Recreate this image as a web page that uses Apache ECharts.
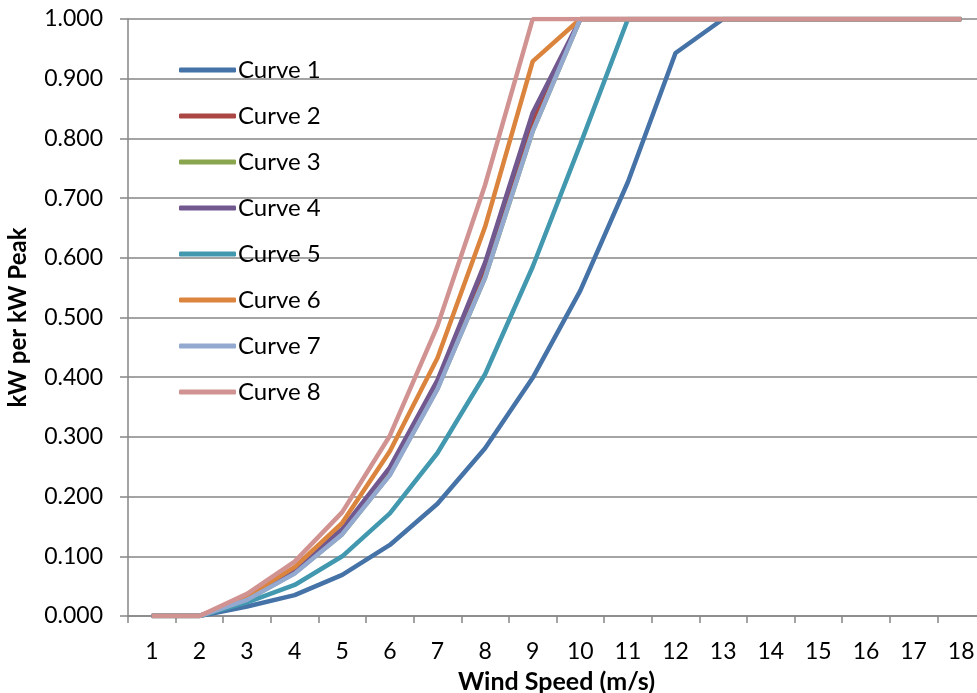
<!DOCTYPE html>
<html>
<head>
<meta charset="utf-8">
<script src="https://cdn.jsdelivr.net/npm/echarts@6/dist/echarts.min.js"></script>
<style>
html,body{margin:0;padding:0;background:#fff;}
#chart{width:977px;height:693px;}
</style>
</head>
<body>
<div id="chart"></div>
<script>
const categories = ['1','2','3','4','5','6','7','8','9','10','11','12','13','14','15','16','17','18'];
const seriesNames = ['Curve 1','Curve 2','Curve 3','Curve 4','Curve 5','Curve 6','Curve 7','Curve 8'];
const curve1 = [0,0,0.016,0.035,0.069,0.119,0.188,0.281,0.399,0.545,0.727,0.943,1,1,1,1,1,1];
const curve2 = [0,0,0.029,0.076,0.142,0.243,0.388,0.580,0.828,1,1,1,1,1,1,1,1,1];
const curve3 = [0,0,0.027,0.072,0.137,0.237,0.381,0.567,0.812,1,1,1,1,1,1,1,1,1];
const curve4 = [0,0,0.030,0.078,0.146,0.249,0.395,0.592,0.843,1,1,1,1,1,1,1,1,1];
const curve5 = [0,0,0.023,0.052,0.100,0.172,0.273,0.405,0.585,0.790,1,1,1,1,1,1,1,1];
const curve6 = [0,0,0.033,0.082,0.156,0.276,0.432,0.652,0.929,1,1,1,1,1,1,1,1,1];
const curve7 = [0,0,0.027,0.071,0.137,0.236,0.380,0.567,0.812,1,1,1,1,1,1,1,1,1];
const curve8 = [0,0,0.037,0.091,0.174,0.302,0.486,0.722,1,1,1,1,1,1,1,1,1,1];
const colors = ['#4572A7','#AA4643','#89A54E','#71588F','#4198AF','#DB843D','#93A9CF','#D19392'];

const allCurves = [curve1,curve2,curve3,curve4,curve5,curve6,curve7,curve8];
const FONT = 'Lato';

const chart = echarts.init(document.getElementById('chart'), null, {renderer:'canvas'});
chart.setOption({
  animation:false,
  color: colors,
  textStyle:{fontFamily:FONT},
  grid:{left:128, top:19, width:857, height:597, containLabel:false, outerBoundsMode:'none'},
  legend:{
    orient:'vertical', left:179, top:58, padding:0,
    itemWidth:57, itemHeight:5, itemGap:22,
    icon:'roundRect',
    selectedMode:false,
    textStyle:{fontFamily:FONT, fontSize:24, color:'#000', lineHeight:24, padding:[0,0,0,-3]},
    data: seriesNames
  },
  xAxis:{
    type:'category', data:categories, boundaryGap:true,
    name:'Wind Speed (m/s)', nameLocation:'middle', nameGap:53,
    nameTextStyle:{fontFamily:FONT, fontSize:25, fontWeight:'bold', color:'#000'},
    axisLine:{lineStyle:{color:'#868686', width:1.5}},
    axisTick:{show:true, length:7, lineStyle:{color:'#868686', width:1.5}},
    axisLabel:{color:'#000', fontSize:23, fontFamily:FONT, margin:24, interval:0},
    splitLine:{show:false}
  },
  yAxis:{
    type:'value', min:0, max:1, interval:0.1,
    name:'kW per kW Peak', nameLocation:'middle', nameGap:98, nameRotate:90,
    nameTextStyle:{fontFamily:FONT, fontSize:24, fontWeight:'bold', color:'#000'},
    axisLine:{show:true, lineStyle:{color:'#868686', width:1.5}},
    axisTick:{show:true, length:8, lineStyle:{color:'#868686', width:1.5}},
    axisLabel:{color:'#000', fontSize:23, fontFamily:FONT, margin:25, formatter:v=>v.toFixed(3)},
    splitLine:{show:true, lineStyle:{color:'#868686', width:1.5}}
  },
  series: allCurves.map((d,i)=>({
    name:seriesNames[i], type:'line', data:d, symbol:'none', smooth:false,
    lineStyle:{width:4.5, color:colors[i]}, itemStyle:{color:colors[i]}
  }))
});
</script>
</body>
</html>
